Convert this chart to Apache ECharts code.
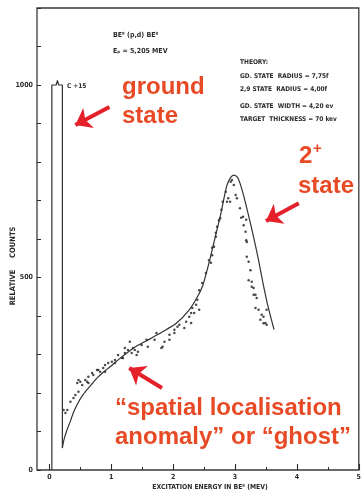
<!DOCTYPE html>
<html>
<head>
<meta charset="utf-8">
<script src="https://cdn.jsdelivr.net/npm/echarts@6/dist/echarts.min.js"></script>
<style>
html, body { margin: 0; padding: 0; background: #fff; }
#chart { width: 364px; height: 495px; }
</style>
</head>
<body>
<div id="chart"></div>
<script>
// Be9(p,d)Be8 deuteron spectrum: relative counts vs excitation energy in Be8 (MeV)

const xTickValues = [0, 1, 2, 3, 4, 5];
const xMinorTickValues = [0.5, 1.5, 2.5, 3.5, 4.5];
const yLabelValues = [0, 500, 1000];

// ground-state peak (scaled down by 15), drawn as a narrow box
const groundStatePeak = [
  [0.04, 0], [0.04, 1000], [0.11, 1000], [0.13, 1012], [0.15, 1000],
  [0.21, 1000], [0.21, 57]
];

// theoretical line shape
const theoryCurve = [
  [0.21, 57], [0.235, 78], [0.28, 102], [0.34, 127], [0.39, 150], [0.445, 169],
  [0.52, 190], [0.605, 208], [0.69, 224], [0.765, 238], [0.87, 254], [0.98, 268],
  [1.14, 290], [1.30, 310], [1.41, 322], [1.62, 340], [1.83, 359], [2.05, 381],
  [2.26, 416], [2.40, 452], [2.48, 480], [2.55, 520], [2.61, 558], [2.69, 612],
  [2.77, 665], [2.82, 705], [2.87, 740], [2.93, 760], [2.98, 766], [3.04, 760],
  [3.09, 740], [3.14, 712], [3.22, 660], [3.30, 605], [3.38, 545], [3.45, 487],
  [3.53, 427], [3.63, 365]
];

// measured counts
const measuredCounts = [
  [0.23, 156], [0.26, 148], [0.29, 156], [0.34, 177], [0.39, 187], [0.42, 195],
  [0.45, 226], [0.47, 203], [0.47, 234], [0.50, 229], [0.53, 221], [0.58, 234],
  [0.61, 229], [0.63, 242], [0.63, 226], [0.69, 252], [0.71, 247], [0.77, 260],
  [0.79, 260], [0.82, 255], [0.87, 265], [0.90, 273], [0.90, 255], [0.95, 278],
  [1.01, 281], [1.06, 286], [1.06, 278], [1.11, 299], [1.17, 291], [1.19, 291],
  [1.22, 304], [1.22, 317], [1.27, 312], [1.30, 333], [1.33, 304], [1.35, 317],
  [1.38, 312], [1.41, 299], [1.43, 307], [1.49, 325], [1.57, 338], [1.59, 320],
  [1.70, 338], [1.73, 356], [1.81, 317], [1.83, 320], [1.86, 333], [1.94, 338],
  [1.94, 351], [2.02, 356], [2.02, 364], [2.07, 372], [2.10, 377], [2.18, 369],
  [2.21, 385], [2.26, 398], [2.29, 382], [2.29, 408], [2.34, 408], [2.31, 421],
  [2.37, 429], [2.42, 416], [2.39, 442], [2.42, 467], [2.47, 486], [2.53, 512],
  [2.58, 545], [2.61, 538], [2.63, 558], [2.63, 577], [2.66, 580], [2.69, 606],
  [2.69, 616], [2.71, 632], [2.74, 649], [2.76, 654], [2.78, 676], [2.80, 697],
  [2.85, 723], [2.87, 697], [2.89, 706], [2.92, 697], [2.93, 749], [2.95, 753],
  [2.98, 740], [3.01, 714], [3.03, 706], [3.08, 680], [3.10, 655], [3.13, 658],
  [3.14, 636], [3.17, 619], [3.18, 597], [3.19, 592], [3.18, 650], [3.19, 554],
  [3.22, 541], [3.22, 493], [3.25, 519], [3.27, 489], [3.27, 476], [3.30, 473],
  [3.30, 455], [3.33, 455], [3.33, 421], [3.35, 447], [3.38, 416], [3.41, 390],
  [3.43, 403], [3.46, 398], [3.46, 381], [3.49, 382], [3.51, 416], [3.51, 377]
];

const ink = '#2b2b2b';
const typeFont = "'DejaVu Sans Condensed', 'DejaVu Sans', sans-serif";
const noteColor = '#e84a26';
const arrowColor = '#e4202a';

const chart = echarts.init(document.getElementById('chart'), null, { renderer: 'canvas' });

function typed(x, y, text, size, align) {
  return {
    type: 'text', x: x, y: y, silent: true,
    style: {
      text: text, fill: ink,
      font: 'bold ' + (size || 6.5) + 'px ' + typeFont,
      textAlign: align || 'left',
      textVerticalAlign: 'middle'
    }
  };
}

function note(x, y, text, size) {
  return {
    type: 'text', x: x, y: y, silent: true,
    style: {
      text: text, fill: noteColor,
      font: 'bold ' + (size || 24) + "px 'Liberation Sans', Arial, sans-serif",
      textVerticalAlign: 'middle'
    }
  };
}

const option = {
  animation: false,
  backgroundColor: '#fff',
  grid: {
    left: 37, right: 2, top: 8, bottom: 25,
    show: true, borderColor: '#3a3a3a', borderWidth: 1.3,
    backgroundColor: 'transparent'
  },
  xAxis: [{
    type: 'value', min: -0.2, max: 5,
    splitLine: { show: false },
    axisLine: { show: false, onZero: false },
    axisTick: { show: true, inside: true, length: 6, customValues: xTickValues,
      lineStyle: { color: ink, width: 1.1 } },
    axisLabel: { show: true, customValues: xTickValues, margin: 4,
      color: ink, fontSize: 7, fontWeight: 'bold', fontFamily: typeFont,
      formatter: v => String(v),
      showMaxLabel: true, showMinLabel: true, hideOverlap: false }
  }, {
    type: 'value', min: -0.2, max: 5, position: 'bottom',
    splitLine: { show: false },
    axisLine: { show: false, onZero: false },
    axisTick: { show: true, inside: true, length: 3, customValues: xMinorTickValues,
      lineStyle: { color: ink, width: 1 } },
    axisLabel: { show: false }
  }],
  yAxis: {
    type: 'value', min: 0, max: 1200, interval: 100, position: 'left',
    splitLine: { show: false },
    axisLine: { show: false, onZero: false },
    axisTick: { show: true, inside: true, length: 4,
      lineStyle: { color: ink, width: 1 } },
    axisLabel: { show: true, customValues: yLabelValues, margin: 4,
      formatter: v => String(v),
      color: ink, fontSize: 7, fontWeight: 'bold', fontFamily: typeFont }
  },
  series: [{
    type: 'line', name: 'ground state', data: groundStatePeak,
    showSymbol: false, silent: true,
    lineStyle: { color: '#333', width: 1.2 }
  }, {
    type: 'line', name: 'theory', data: theoryCurve,
    smooth: 0.25, showSymbol: false, silent: true,
    lineStyle: { color: '#333', width: 1.2 },
    markLine: {
      silent: true, animation: false,
      symbol: ['none', 'arrow'], symbolSize: [17, 15],
      label: { show: false },
      lineStyle: { color: arrowColor, width: 4, type: 'solid' },
      data: [
        [{ coord: [0.97, 943] }, { coord: [0.42, 896] }],
        [{ coord: [4.03, 693] }, { coord: [3.50, 647] }],
        [{ coord: [1.82, 213] }, { coord: [1.29, 265] }]
      ]
    }
  }, {
    type: 'scatter', name: 'data', data: measuredCounts,
    symbolSize: 2.5, silent: true,
    itemStyle: { color: '#1e1e1e' }
  }],
  graphic: [
    typed(113, 35, 'BE⁹ (p,d) BE⁸', 7),
    typed(113, 51, 'Eₚ = 5,205 MEV', 7),
    typed(240, 62, 'THEORY:'),
    typed(240, 76, 'GD. STATE  RADIUS = 7,75f'),
    typed(240, 89, '2,9 STATE  RADIUS = 4,00f'),
    typed(240, 106, 'GD. STATE  WIDTH = 4,20 ev'),
    typed(240, 119, 'TARGET  THICKNESS = 70 kev'),
    typed(67, 86, 'C ÷15'),
    typed(210, 487, 'EXCITATION ENERGY IN BE⁸ (MEV)', 6.8, 'center'),
    {
      type: 'text', x: 13, y: 266, rotation: Math.PI / 2, silent: true,
      style: { text: 'RELATIVE     COUNTS', fill: ink,
        font: 'bold 7.5px ' + typeFont, textAlign: 'center', textVerticalAlign: 'middle' }
    },
    note(122, 87, 'ground'),
    note(122, 116, 'state'),
    note(299, 156, '2'),
    note(313, 149, '+', 15),
    note(298, 186, 'state'),
    note(115, 408, '“spatial localisation'),
    note(115, 437, 'anomaly” or “ghost”')
  ]
};

chart.setOption(option);
</script>
</body>
</html>
